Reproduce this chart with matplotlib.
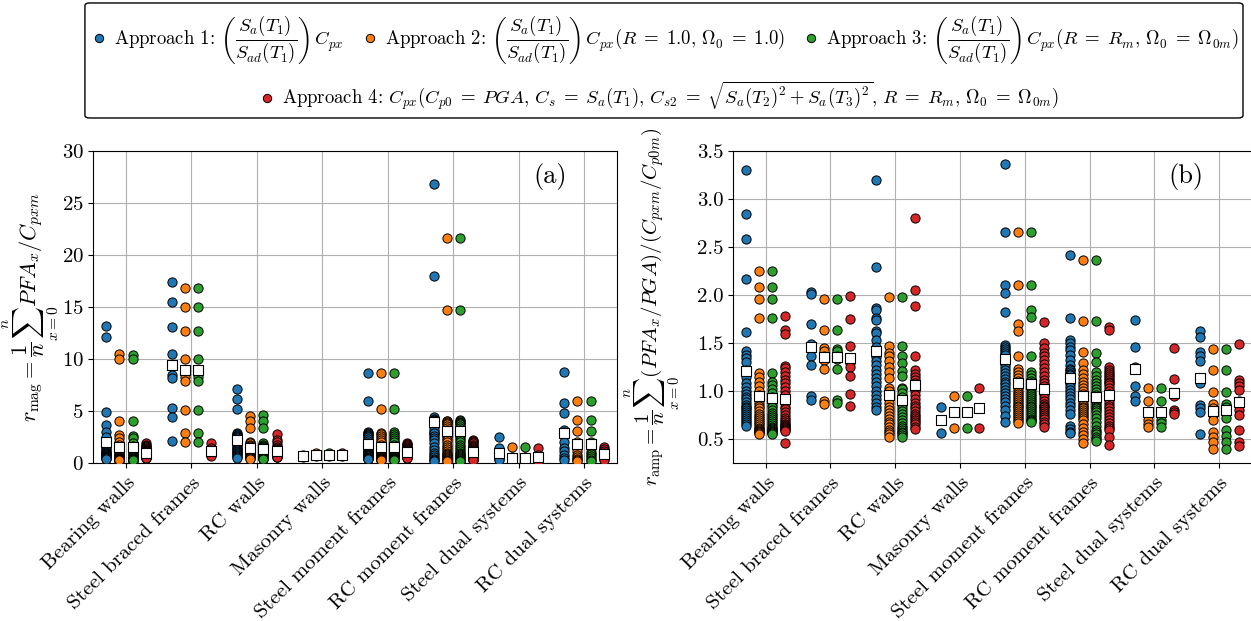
import numpy as np
import matplotlib
matplotlib.use("Agg")
import matplotlib.pyplot as plt
from matplotlib.lines import Line2D
from matplotlib.patches import FancyBboxPatch

plt.rcParams.update({
    "font.family": "serif",
    "font.serif": ["cmr10"],
    "mathtext.fontset": "cm",
    "axes.unicode_minus": False,
    "axes.formatter.use_mathtext": True,
})

categories = ["Bearing walls", "Steel braced frames", "RC walls", "Masonry walls",
              "Steel moment frames", "RC moment frames", "Steel dual systems",
              "RC dual systems"]
colors = ["#1f77b4", "#ff7f0e", "#2ca02c", "#d62728"]
labels = [
    r"Approach 1: $\left(\dfrac{S_a(T_1)}{S_{ad}(T_1)}\right)\,C_{px}$",
    r"Approach 2: $\left(\dfrac{S_a(T_1)}{S_{ad}(T_1)}\right)\,C_{px}(R\;=\;1.0,\,\Omega_0\;=\;1.0)$",
    r"Approach 3: $\left(\dfrac{S_a(T_1)}{S_{ad}(T_1)}\right)\,C_{px}(R\;=\;R_m,\,\Omega_0\;=\;\Omega_{0m})$",
    r"Approach 4: $C_{px}(C_{p0}\;=\;PGA,\,C_s\;=\;S_a(T_1),\,C_{s2}\;=\;\sqrt{S_a(T_2)^2+S_a(T_3)^2},"
    r"\,R\;=\;R_m,\,\Omega_0\;=\;\Omega_{0m})$",
]

# ---- panel (a): r_mag, one list per approach (1..4) ----
mag_bearing_walls = [
    [13.18, 12.09, 4.89, 3.67, 3.03, 2.55, 1.95, 1.80, 1.90, 1.70, 1.50, 1.35, 1.20, 1.05, 1.00,
     0.95, 0.90, 0.85, 0.80, 0.75, 0.70, 0.66, 0.62, 0.58, 0.55, 0.52, 0.50, 0.48, 0.46, 0.44],
    [10.49, 10.00, 4.09, 2.72, 2.40, 2.00, 1.80, 1.50, 1.20, 1.00, 0.90, 0.80, 0.70, 0.65, 0.60,
     0.55, 0.50, 0.45, 0.42, 0.40, 0.38, 0.36, 0.35, 0.34, 0.33, 0.32, 0.31, 0.30, 0.30, 0.30],
    [10.40, 10.05, 4.09, 2.65, 2.40, 1.90, 1.70, 1.50, 1.25, 1.05, 0.95, 0.85, 0.75, 0.68, 0.62,
     0.56, 0.50, 0.46, 0.43, 0.40, 0.38, 0.36, 0.35, 0.34, 0.33, 0.32, 0.31, 0.30, 0.30, 0.30],
    [1.90, 1.80, 1.70, 1.60, 1.50, 1.40, 1.30, 1.25, 1.20, 1.15, 1.10, 1.05, 1.00, 0.95, 0.90,
     0.85, 0.80, 0.78, 0.75, 0.72, 0.70, 0.68, 0.66, 0.64, 0.62, 0.60, 0.58, 0.55, 0.52, 0.50],
]
mag_steel_braced = [
    [17.37, 15.51, 13.11, 10.49, 8.47, 8.16, 5.34, 4.41, 2.14],
    [16.82, 15.00, 12.67, 10.00, 8.30, 7.93, 5.08, 2.94, 2.08],
    [16.82, 15.00, 12.67, 10.00, 8.30, 7.93, 5.08, 2.94, 2.08],
    [1.98, 1.50, 1.30, 1.20, 1.10, 1.00, 0.90, 0.80, 0.72],
]
mag_rc_walls = [
    [7.13, 6.20, 5.18, 2.88, 2.80, 2.70, 2.60, 2.50, 2.40, 2.20, 2.00, 1.90, 1.80, 1.60, 1.50,
     1.40, 1.30, 1.20, 1.10, 1.00, 0.90, 0.80, 0.70, 0.60, 0.50],
    [4.54, 4.09, 3.36, 2.00, 1.90, 1.80, 1.70, 1.60, 1.50, 1.40, 1.30, 1.20, 1.10, 1.00, 0.95,
     0.90, 0.85, 0.80, 0.75, 0.70, 0.65, 0.60, 0.55, 0.50, 0.45],
    [4.60, 4.10, 3.36, 1.90, 1.80, 1.70, 1.60, 1.50, 1.40, 1.30, 1.20, 1.10, 1.00, 0.95, 0.90,
     0.85, 0.80, 0.75, 0.70, 0.65, 0.60, 0.55, 0.50, 0.45, 0.40],
    [2.85, 2.20, 2.00, 1.80, 1.60, 1.50, 1.40, 1.30, 1.20, 1.10, 1.05, 1.00, 0.95, 0.90, 0.85,
     0.80, 0.78, 0.75, 0.72, 0.70, 0.68, 0.65, 0.62, 0.60, 0.58],
]
mag_masonry_walls = [[0.80, 0.62], [0.95, 0.70], [0.95, 0.70], [0.98, 0.66]]
mag_steel_moment = [
    [8.64, 6.00, 3.00, 2.90, 2.80, 2.70, 2.60, 2.50, 2.30, 2.10, 1.90, 1.70, 1.55, 1.40, 1.30,
     1.20, 1.10, 1.00, 0.95, 0.90, 0.85, 0.80, 0.75, 0.70, 0.65, 0.60, 0.55, 0.50, 0.45, 0.40],
    [8.64, 5.18, 2.95, 2.80, 2.60, 2.40, 2.20, 2.00, 1.80, 1.60, 1.45, 1.30, 1.20, 1.10, 1.00,
     0.90, 0.85, 0.80, 0.75, 0.70, 0.65, 0.60, 0.55, 0.50, 0.45, 0.40, 0.38, 0.35, 0.32, 0.30],
    [8.64, 5.18, 3.00, 2.85, 2.65, 2.45, 2.25, 2.00, 1.80, 1.60, 1.45, 1.30, 1.20, 1.10, 1.00,
     0.90, 0.85, 0.80, 0.75, 0.70, 0.65, 0.60, 0.55, 0.50, 0.45, 0.40, 0.38, 0.35, 0.32, 0.30],
    [1.90, 1.85, 1.80, 1.70, 1.60, 1.50, 1.40, 1.30, 1.25, 1.20, 1.15, 1.10, 1.05, 1.00, 0.98,
     0.95, 0.92, 0.90, 0.88, 0.85, 0.82, 0.80, 0.78, 0.75, 0.72, 0.70, 0.65, 0.60, 0.55, 0.50],
]
mag_rc_moment = [
    [26.78, 17.97, 4.40, 3.00, 2.80, 4.25, 4.20, 4.15, 4.10, 4.05, 4.00, 3.95, 3.90, 3.80, 3.70,
     3.50, 3.20, 2.90, 2.60, 2.40, 2.20, 1.90, 1.60, 1.30, 1.00, 0.80, 0.60, 0.45, 0.30, 0.20],
    [21.59, 14.74, 4.10, 4.05, 4.00, 3.90, 3.80, 3.60, 3.40, 3.20, 3.00, 2.80, 2.60, 2.40, 2.20,
     2.00, 1.80, 1.60, 1.40, 1.20, 1.00, 0.90, 0.80, 0.70, 0.60, 0.50, 0.40, 0.30, 0.25, 0.20],
    [21.59, 14.74, 4.12, 4.05, 3.95, 3.90, 3.75, 3.60, 3.40, 3.20, 3.00, 2.80, 2.60, 2.40, 2.20,
     2.00, 1.80, 1.60, 1.40, 1.20, 1.00, 0.90, 0.80, 0.70, 0.60, 0.50, 0.40, 0.30, 0.25, 0.20],
    [2.24, 2.14, 2.00, 1.90, 1.80, 1.70, 1.60, 1.50, 1.40, 1.30, 1.20, 1.15, 1.10, 1.05, 1.00,
     0.95, 0.90, 0.85, 0.80, 0.75, 0.70, 0.65, 0.60, 0.55, 0.50, 0.45, 0.40, 0.38, 0.35, 0.30],
]
mag_steel_dual = [
    [2.56, 1.44, 0.80, 0.50, 0.40, 0.30],
    [1.60, 0.60, 0.40, 0.30, 0.20, 0.15],
    [1.60, 0.62, 0.42, 0.30, 0.20, 0.15],
    [1.44, 0.80, 0.60, 0.40, 0.20, 0.15],
]
mag_rc_dual = [
    [8.73, 5.76, 4.80, 3.20, 3.00, 2.00, 1.50, 1.20, 0.80, 0.50, 0.30],
    [5.98, 4.16, 3.10, 2.00, 1.60, 1.20, 0.80, 0.60, 0.40, 0.30, 0.20],
    [5.98, 4.16, 3.10, 2.00, 1.50, 1.10, 0.90, 0.70, 0.50, 0.30, 0.20],
    [1.60, 1.40, 1.20, 1.00, 0.90, 0.80, 0.70, 0.60, 0.50, 0.40, 0.30],
]

# ---- panel (b): r_amp ----
amp_bearing_walls = [
    [3.30, 2.84, 2.58, 2.17, 1.61, 1.42, 1.38, 1.34, 1.30, 1.22, 1.15, 1.08, 1.04, 1.00, 0.97,
     0.94, 0.92, 0.89, 0.86, 0.84, 0.82, 0.80, 0.78, 0.76, 0.74, 0.72, 0.70, 0.68, 0.66, 0.64],
    [2.25, 2.08, 1.96, 1.76, 1.19, 1.15, 1.10, 1.05, 1.00, 0.96, 0.92, 0.88, 0.85, 0.82, 0.79,
     0.76, 0.74, 0.72, 0.70, 0.68, 0.66, 0.64, 0.62, 0.61, 0.60, 0.59, 0.58, 0.57, 0.56, 0.55],
    [2.25, 2.08, 1.96, 1.76, 1.19, 1.10, 1.06, 1.02, 0.98, 0.94, 0.90, 0.86, 0.83, 0.80, 0.77,
     0.75, 0.73, 0.71, 0.69, 0.67, 0.65, 0.63, 0.62, 0.61, 0.60, 0.59, 0.58, 0.57, 0.56, 0.55],
    [1.78, 1.64, 1.59, 1.26, 1.24, 1.20, 1.16, 1.12, 1.08, 1.04, 1.00, 0.96, 0.92, 0.88, 0.84,
     0.81, 0.78, 0.75, 0.72, 0.70, 0.68, 0.66, 0.65, 0.64, 0.63, 0.62, 0.61, 0.60, 0.59, 0.46],
]
amp_steel_braced = [
    [2.03, 2.01, 1.70, 1.49, 1.45, 1.36, 1.27, 0.95, 0.91],
    [1.96, 1.64, 1.45, 1.42, 1.36, 1.32, 1.23, 0.90, 0.87],
    [1.96, 1.64, 1.44, 1.42, 1.36, 1.33, 1.23, 0.91, 0.88],
    [1.99, 1.75, 1.47, 1.33, 1.29, 1.25, 1.16, 0.97, 0.85],
]
amp_rc_walls = [
    [3.19, 2.29, 1.86, 1.84, 1.76, 1.74, 1.63, 1.60, 1.53, 1.46, 1.40, 1.35, 1.31, 1.27, 1.22,
     1.18, 1.14, 1.10, 1.05, 1.00, 0.96, 0.92, 0.88, 0.84, 0.80],
    [1.98, 1.47, 1.40, 1.36, 1.31, 1.25, 1.20, 1.14, 1.03, 1.00, 0.96, 0.92, 0.88, 0.84, 0.80,
     0.77, 0.74, 0.71, 0.68, 0.66, 0.63, 0.60, 0.58, 0.55, 0.52],
    [1.98, 1.47, 1.36, 1.29, 1.21, 1.16, 1.03, 1.02, 0.98, 0.94, 0.90, 0.86, 0.82, 0.79, 0.76,
     0.73, 0.70, 0.67, 0.64, 0.62, 0.60, 0.58, 0.56, 0.54, 0.52],
    [2.80, 2.05, 1.89, 1.36, 1.22, 1.18, 1.15, 1.12, 1.08, 1.04, 1.00, 0.96, 0.92, 0.88, 0.85,
     0.82, 0.79, 0.76, 0.74, 0.72, 0.70, 0.68, 0.66, 0.63, 0.61],
]
amp_masonry_walls = [[0.83, 0.56], [0.95, 0.62], [0.95, 0.62], [1.03, 0.62]]
amp_steel_moment = [
    [3.36, 2.65, 2.10, 2.02, 1.82, 1.48, 1.46, 1.44, 1.42, 1.40, 1.38, 1.33, 1.28, 1.25, 1.22,
     1.19, 1.16, 1.13, 1.10, 1.07, 1.04, 1.01, 0.98, 0.95, 0.92, 0.89, 0.85, 0.80, 0.74, 0.68],
    [2.65, 2.10, 1.70, 1.62, 1.37, 1.23, 1.20, 1.17, 1.14, 1.11, 1.08, 1.05, 1.02, 0.99, 0.97,
     0.95, 0.93, 0.91, 0.89, 0.87, 0.85, 0.83, 0.81, 0.79, 0.77, 0.75, 0.73, 0.71, 0.69, 0.67],
    [2.65, 2.10, 1.84, 1.77, 1.37, 1.20, 1.17, 1.14, 1.11, 1.08, 1.05, 1.02, 0.99, 0.97, 0.95,
     0.93, 0.91, 0.89, 0.87, 0.85, 0.83, 0.81, 0.79, 0.77, 0.75, 0.73, 0.71, 0.70, 0.69, 0.68],
    [1.72, 1.50, 1.45, 1.40, 1.36, 1.32, 1.28, 1.24, 1.20, 1.16, 1.12, 1.08, 1.05, 1.02, 0.99,
     0.96, 0.93, 0.90, 0.87, 0.85, 0.83, 0.81, 0.79, 0.77, 0.75, 0.73, 0.71, 0.68, 0.66, 0.63],
]
amp_rc_moment = [
    [2.41, 1.76, 1.53, 1.50, 1.46, 1.43, 1.38, 1.32, 1.27, 1.23, 1.22, 1.20, 1.18, 1.17, 1.14,
     1.10, 1.07, 1.04, 1.01, 0.98, 0.95, 0.92, 0.88, 0.85, 0.80, 0.76, 0.64, 0.61, 0.58, 0.56],
    [2.36, 1.73, 1.41, 1.29, 1.22, 1.18, 1.14, 1.10, 1.06, 1.03, 1.00, 0.97, 0.94, 0.91, 0.88,
     0.86, 0.84, 0.82, 0.80, 0.78, 0.76, 0.74, 0.72, 0.70, 0.66, 0.62, 0.58, 0.54, 0.50, 0.46],
    [2.36, 1.73, 1.40, 1.30, 1.20, 1.16, 1.12, 1.08, 1.05, 1.02, 0.99, 0.96, 0.93, 0.90, 0.88,
     0.86, 0.84, 0.82, 0.80, 0.78, 0.75, 0.72, 0.68, 0.64, 0.60, 0.57, 0.55, 0.52, 0.50, 0.48],
    [1.67, 1.64, 1.25, 1.22, 1.20, 1.18, 1.16, 1.14, 1.12, 1.10, 1.08, 1.06, 1.03, 1.00, 0.97,
     0.94, 0.91, 0.88, 0.85, 0.82, 0.79, 0.76, 0.73, 0.70, 0.67, 0.64, 0.62, 0.60, 0.52, 0.44],
]
amp_steel_dual = [
    [1.74, 1.46, 1.25, 1.05, 0.95, 0.90],
    [1.03, 0.90, 0.76, 0.70, 0.66, 0.63],
    [1.03, 0.90, 0.77, 0.70, 0.67, 0.63],
    [1.45, 1.13, 0.95, 0.80, 0.78, 0.76],
]
amp_rc_dual = [
    [1.62, 1.56, 1.41, 1.36, 1.31, 1.12, 1.08, 0.86, 0.82, 0.78, 0.55],
    [1.44, 1.22, 0.99, 0.87, 0.82, 0.75, 0.70, 0.57, 0.52, 0.47, 0.40],
    [1.44, 1.22, 0.99, 0.87, 0.83, 0.78, 0.72, 0.60, 0.53, 0.47, 0.40],
    [1.49, 1.12, 1.08, 1.05, 1.01, 0.90, 0.80, 0.75, 0.60, 0.47, 0.43],
]

mag_data = [mag_bearing_walls, mag_steel_braced, mag_rc_walls, mag_masonry_walls,
            mag_steel_moment, mag_rc_moment, mag_steel_dual, mag_rc_dual]
amp_data = [amp_bearing_walls, amp_steel_braced, amp_rc_walls, amp_masonry_walls,
            amp_steel_moment, amp_rc_moment, amp_steel_dual, amp_rc_dual]

offsets = [-0.3, -0.1, 0.1, 0.3]


def plot_panel(ax, data, ylabel, tag, label_x, label_size):
    for i, groups in enumerate(data):
        for j, vals in enumerate(groups):
            x = i + offsets[j]
            ax.scatter(np.full(len(vals), x), vals, s=44, c=colors[j],
                       edgecolors="k", linewidths=0.7, zorder=3)
            ax.scatter([x], [np.mean(vals)], s=44, marker="s", c="white",
                       edgecolors="k", linewidths=0.8, zorder=4)
    ax.set_xlim(-0.5, 7.5)
    ax.set_xticks(range(len(categories)))
    ax.set_xticklabels(categories, rotation=45, ha="right",
                       rotation_mode="anchor", fontsize=15)
    ax.tick_params(axis="y", labelsize=15)
    ax.tick_params(axis="x", pad=4)
    ax.set_ylabel(ylabel, fontsize=label_size)
    ax.yaxis.set_label_coords(label_x, 0.5)
    ax.grid(True, color="#b0b0b0", lw=0.8)
    ax.set_axisbelow(True)
    ax.text(0.873, 0.916, tag, transform=ax.transAxes, fontsize=19,
            ha="center", va="center")


fig = plt.figure(figsize=(12.51, 6.21), dpi=100)
ax1 = fig.add_axes([0.0746, 0.254, 0.4184, 0.5034])
ax2 = fig.add_axes([0.5862, 0.254, 0.4142, 0.5034])

plot_panel(ax1, mag_data,
           r"$r_{\rm mag}=\dfrac{1}{n}\sum_{x=0}^{n}PFA_x/C_{pxm}$", "(a)", -0.062, 16)
ax1.set_ylim(0, 30)
ax1.set_yticks(np.arange(0, 31, 5))

plot_panel(ax2, amp_data,
           r"$r_{\rm amp}=\dfrac{1}{n}\sum_{x=0}^{n}(PFA_x/PGA)/(C_{pxm}/C_{p0m})$", "(b)",
           -0.098, 15)
ax2.set_ylim(0.25, 3.5)
ax2.set_yticks(np.arange(0.5, 3.51, 0.5))
ax2.set_yticklabels([f"{v:.1f}" for v in np.arange(0.5, 3.51, 0.5)])

handles = [Line2D([], [], ls="", marker="o", ms=6, mfc=c, mec="k", mew=0.7) for c in colors]
leg_kw = dict(loc="center", frameon=False, fontsize=13.5, handlelength=0.8,
              handletextpad=0.4, columnspacing=1.0)
fig.legend(handles[:3], labels[:3], ncol=3, bbox_to_anchor=(0.532, 0.9356), **leg_kw)
fig.legend(handles[3:], labels[3:], ncol=1, bbox_to_anchor=(0.527, 0.8454), **leg_kw)
fig.add_artist(FancyBboxPatch((0.0679, 0.81), 0.9257, 0.1852,
                              boxstyle="round,pad=0,rounding_size=0.004",
                              transform=fig.transFigure, fc="white", ec="k",
                              lw=1.0, zorder=0))

fig.savefig("out.png", dpi=100)
